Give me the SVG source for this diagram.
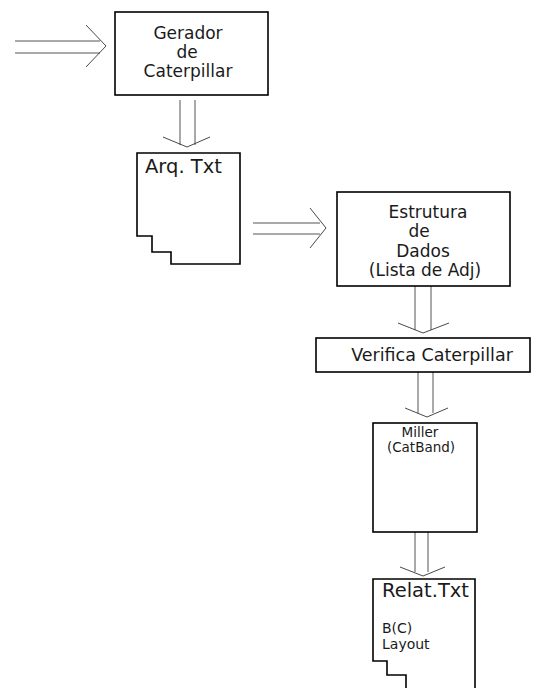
<svg xmlns="http://www.w3.org/2000/svg" width="533" height="688" viewBox="0 0 533 688">
<style>
.box{fill:#fff;stroke:#000;stroke-width:1.6}
.shaft{fill:none;stroke:#555;stroke-width:1}
.head{fill:none;stroke:#333;stroke-width:0.9}
text{font-family:"DejaVu Sans",sans-serif;fill:#1a1a1a}
.c{text-anchor:middle}
</style>
<rect width="533" height="688" fill="#fff"/>
<g id="connectors">
<path class="shaft" d="M15,41 H100 M15,53 H100"/>
<path class="head" d="M86,25 L106,46 L86,67"/>
<path class="shaft" d="M180,100 V145 M195,100 V145"/>
<path class="head" d="M163,137 L187,147 L210,137"/>
<path class="shaft" d="M253,223 H320 M253,234 H320"/>
<path class="head" d="M310,208 L326,228 L310,248"/>
<path class="shaft" d="M415,286 V330 M431,286 V330"/>
<path class="head" d="M398,323 L423,333 L449,323"/>
<path class="shaft" d="M418,372 V413 M433,372 V413"/>
<path class="head" d="M405,408 L427,417 L448,408"/>
<path class="shaft" d="M415,532 V572 M428,532 V572"/>
<path class="head" d="M400,567 L423,576 L445,567"/>
</g>
<g id="gerador">
<rect class="box" x="115" y="12" width="153" height="83"/>
<text class="c" x="188" y="39" font-size="17">Gerador</text>
<text class="c" x="187" y="58" font-size="17">de</text>
<text class="c" x="188" y="77" font-size="17">Caterpillar</text>
</g>
<g id="arq">
<path class="box" d="M137,153 H240 V264 H171 V252 H152 V236 H137 Z"/>
<text x="145" y="173" font-size="19.5">Arq. Txt</text>
</g>
<g id="estrutura">
<rect class="box" x="337" y="192" width="173" height="94"/>
<text class="c" x="428" y="218" font-size="17">Estrutura</text>
<text class="c" x="419" y="237" font-size="17">de</text>
<text class="c" x="423" y="257" font-size="17">Dados</text>
<text class="c" x="425" y="276" font-size="17">(Lista de Adj)</text>
</g>
<g id="verifica">
<rect class="box" x="316" y="338" width="214" height="34"/>
<text class="c" x="432" y="361" font-size="17.5">Verifica Caterpillar</text>
</g>
<g id="miller">
<rect class="box" x="373" y="423" width="104" height="109"/>
<text class="c" x="420" y="437" font-size="13.5">Miller</text>
<text class="c" x="421" y="452" font-size="13.5">(CatBand)</text>
</g>
<g id="relat">
<path class="box" d="M406,690 V675 H387 V661 H373 V579 H475 V690"/>
<text x="382" y="597" font-size="19.5">Relat.Txt</text>
<text x="382" y="633" font-size="14">B(C)</text>
<text x="382" y="649" font-size="14">Layout</text>
</g>
</svg>
